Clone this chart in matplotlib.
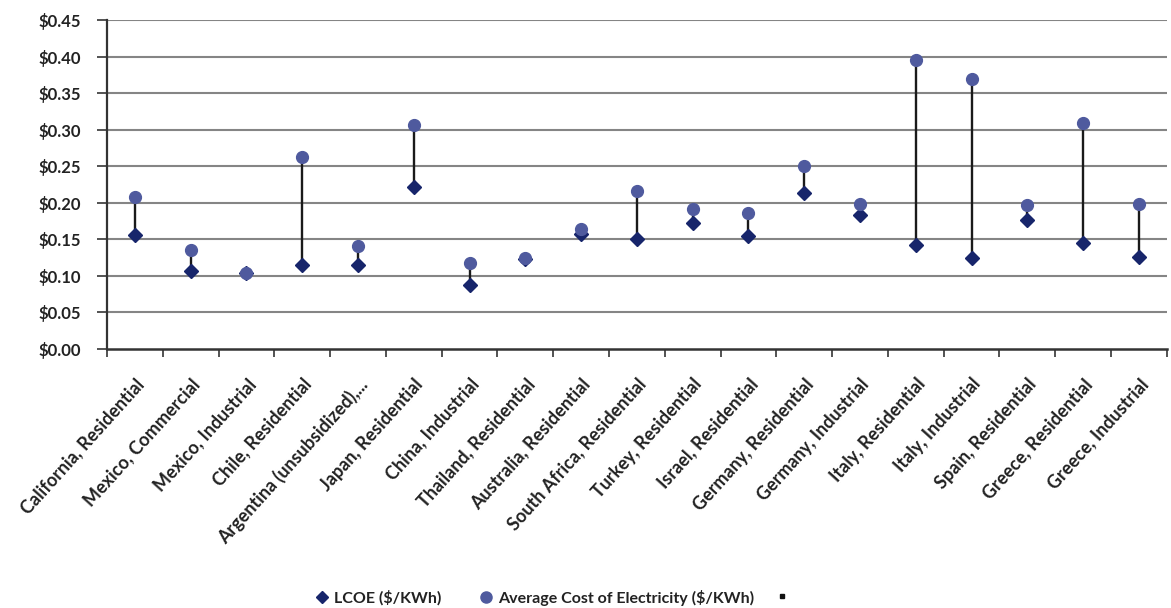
import numpy as np
import matplotlib.pyplot as plt
import matplotlib.transforms as mtransforms
from matplotlib.lines import Line2D

plt.rcParams['font.family'] = ['Lato', 'DejaVu Sans']

categories = [
    'California, Residential', 'Mexico, Commercial', 'Mexico, Industrial',
    'Chile, Residential', 'Argentina (unsubsidized),...', 'Japan, Residential',
    'China, Industrial', 'Thailand, Residential', 'Australia, Residential',
    'South Africa, Residential', 'Turkey, Residential', 'Israel, Residential',
    'Germany, Residential', 'Germany, Industrial', 'Italy, Residential',
    'Italy, Industrial', 'Spain, Residential', 'Greece, Residential',
    'Greece, Industrial',
]
lcoe = [0.156, 0.107, 0.104, 0.115, 0.115, 0.222, 0.088, 0.123, 0.158,
        0.151, 0.172, 0.155, 0.213, 0.183, 0.142, 0.124, 0.176, 0.145, 0.126]
avg_cost = [0.208, 0.135, 0.104, 0.263, 0.141, 0.306, 0.117, 0.124, 0.164,
            0.216, 0.192, 0.186, 0.251, 0.199, 0.395, 0.370, 0.197, 0.309, 0.199]
yticks = np.arange(0, 0.451, 0.05)

lcoe_color = '#17256b'
avg_color = '#4f5a9e'

fig = plt.figure(figsize=(11.71, 6.08), dpi=100)
ax = fig.add_axes([0.0914, 0.426, 0.905, 0.541])

x = np.arange(len(categories))

# gridlines
for v in yticks[1:]:
    ax.axhline(v, color='#858585', lw=1.5, zorder=1)

# high-low lines
ax.vlines(x, lcoe, avg_cost, color='#1a1a1a', lw=1.7, zorder=2)
ax.plot(x, lcoe, ls='none', marker='D', ms=7, color=lcoe_color, zorder=3)
ax.plot(x, avg_cost, ls='none', marker='o', ms=8.5, color=avg_color, zorder=4)

ax.set_xlim(-0.5, len(categories) - 0.5)
ax.set_ylim(0, 0.45)
ax.set_yticks(yticks)
ax.set_yticklabels([f'${v:.2f}' for v in yticks], fontsize=12, fontweight='bold',
                   color='#222222')

ax.set_xticks(x)
ax.set_xticklabels(categories, rotation=48, ha='right', rotation_mode='anchor',
                   fontsize=13, fontweight='bold', color='#222222')
shift = mtransforms.ScaledTranslation(-10 / 100, 0, fig.dpi_scale_trans)
for lbl in ax.get_xticklabels():
    lbl.set_transform(lbl.get_transform() + shift)
ax.tick_params(axis='x', which='major', length=0, pad=19)
ax.set_xticks(np.arange(-0.5, len(categories)), minor=True)
ax.tick_params(axis='x', which='minor', length=6, width=1.3, color='#444444')
ax.tick_params(axis='y', length=7, width=1.3, color='#444444', pad=12)

for s in ['top', 'right']:
    ax.spines[s].set_visible(False)
ax.spines['left'].set_color('#333333')
ax.spines['left'].set_linewidth(1.6)
ax.spines['bottom'].set_color('#333333')
ax.spines['bottom'].set_linewidth(1.8)

handles = [
    Line2D([], [], ls='none', marker='D', ms=6, color=lcoe_color),
    Line2D([], [], ls='none', marker='o', ms=8, color=avg_color),
]
labels = ['LCOE ($/KWh)', 'Average Cost of Electricity ($/KWh)']
leg = fig.legend(handles, labels, loc='lower left', bbox_to_anchor=(0.256, -0.02),
                 ncol=2, frameon=False, handlelength=1.0, handletextpad=0.25,
                 columnspacing=2.3, prop={'size': 11.5, 'weight': 'bold'})
for t in leg.get_texts():
    t.set_color('#222222')
# empty third legend entry (small black square)
fig.legend([Line2D([], [], ls='none', marker='s', ms=3, color='#111111')], [''],
           loc='center', bbox_to_anchor=(0.668, 0.018), frameon=False,
           handlelength=1.0, handletextpad=0)

fig.savefig('out.png', dpi=100)
